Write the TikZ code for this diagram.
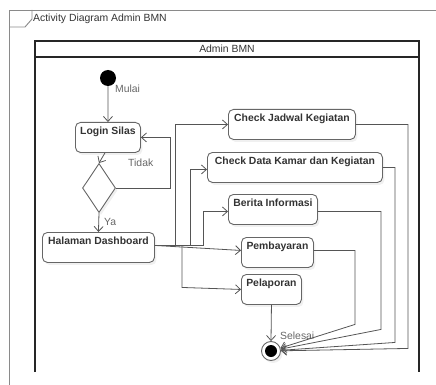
\documentclass[tikz,border=0pt]{standalone}
\usepackage{fontspec}
\setmainfont{Liberation Sans}
\usetikzlibrary{arrows.meta,shapes.geometric,shadows}

\definecolor{linegray}{HTML}{555555}
\definecolor{boxgray}{HTML}{666666}
\definecolor{framegray}{HTML}{8A8A8A}
\definecolor{textdark}{HTML}{333333}
\definecolor{labelgray}{HTML}{666666}

\tikzset{
  actbox/.style={rectangle, rounded corners=5pt, draw=boxgray, line width=0.9pt,
    fill=white, drop shadow={shadow xshift=2pt, shadow yshift=-2.5pt, opacity=0.12},
    font=\bfseries\fontsize{10.4}{12}\selectfont, text=textdark,
    inner xsep=3pt, inner ysep=4pt, text height=8pt, text depth=14pt,
    minimum height=30pt, anchor=north west},
  decision/.style={diamond, draw=boxgray, line width=0.9pt, fill=white,
    drop shadow={shadow xshift=2pt, shadow yshift=-2.5pt, opacity=0.12},
    inner sep=0pt, minimum width=33pt, minimum height=49pt},
  startnode/.style={circle, fill=black, inner sep=0pt, minimum size=16pt},
  endnode/.style={circle, draw=boxgray, line width=0.9pt, fill=white, inner sep=0pt,
    minimum size=19pt,
    drop shadow={shadow xshift=2pt, shadow yshift=-2.5pt, opacity=0.12},
    path picture={\fill[black] (path picture bounding box.center) circle (6pt);}},
  flow/.style={draw=linegray, line width=0.8pt, -{Straight Barb[length=5pt,width=9pt]}},
  guard/.style={text=labelgray, font=\fontsize{10.4}{12}\selectfont, inner sep=0pt, anchor=west},
}

\begin{document}
\begin{tikzpicture}[x=1pt, y=-1pt]
\useasboundingbox (0,0) rectangle (436,385);

% diagram frame with its name tab
\draw[framegray, line width=0.9pt] (9,385) -- (9,10) -- (436,10);
\draw[framegray, line width=0.9pt] (9,27) -- (25,27) -- (32,19) -- (32,10);
\node[text=textdark, font=\fontsize{10.4}{12}\selectfont, anchor=west, inner sep=0pt]
  (frametitle) at (33,19) {Activity Diagram Admin BMN};

% swimlane
\draw[black!85, line width=1.4pt] (35,372) -- (35,41) -- (419,41) -- (419,372);
\draw[black!85, line width=1.4pt] (35,57) -- (419,57);
\node[text=textdark, font=\fontsize{10.4}{12}\selectfont, inner sep=0pt]
  (lanetitle) at (227,49) {Admin BMN};

% activity nodes
\node[startnode] (start) at (108,78) {};
\node[actbox, minimum width=65pt]  (login)  at (75,122)  {Login Silas};
\node[decision] (dec) at (99,188) {};
\node[actbox, minimum width=112pt] (dash)   at (42,232)  {Halaman Dashboard};
\node[actbox, minimum width=127pt] (jadwal) at (228,109) {Check Jadwal Kegiatan};
\node[actbox, minimum width=175pt] (data)   at (207,152) {Check Data Kamar dan Kegiatan};
\node[actbox, minimum width=89pt]  (berita) at (228,194) {Berita Informasi};
\node[actbox, minimum width=72pt]  (bayar)  at (241,237) {Pembayaran};
\node[actbox, minimum width=60pt]  (lapor)  at (241,274) {Pelaporan};
\node[endnode] (stop) at (271,351) {};

% labels
\node[guard] (lblmulai) at (115,89) {Mulai};
\node[guard] (lbltidak) at (128,163) {Tidak};
\node[guard] (lblya) at (104,222) {Ya};
\node[guard] (lblselesai) at (280,336) {Selesai};

% control flow
\draw[flow] (start) -- (login.north);
\draw[flow] ([xshift=-3pt]login.south) -- (dec.north);
\draw[flow] (dec.east) -- ++(54,0) |- (login.east);
\draw[flow] (dec.south) -- (dash.north);

\draw[flow] ([yshift=2pt]dash.east) -- ++(20,0) |- (jadwal.west);
\draw[flow] ([yshift=2pt]dash.east) -- ++(35,0) |- ([yshift=-2pt]data.west);
\draw[flow] ([yshift=2pt]dash.east) -- ++(48,0) |- ([yshift=-2pt]berita.west);
\draw[flow] ([yshift=2pt]dash.east) -- ([yshift=2pt]bayar.west);
\draw[flow] ([yshift=2pt]dash.east) -- ++(27,0) -- ++(0,42) -- (lapor.west);

\draw[flow] (lapor.south) -- (stop.north);
\draw[flow] ([yshift=2pt]bayar.east) -- ++(41,0) -- ++(0,74) -- (stop);
\draw[flow] ([yshift=-2pt]berita.east) -- ++(63,0) -- ++(0,118) -- (stop);
\draw[flow] (data.east) -- ++(12,0) -- ++(0,175) -- (stop);
\draw[flow] (jadwal.east) -- ++(52,0) -- ++(0,224) -- (stop);
\end{tikzpicture}
\end{document}
